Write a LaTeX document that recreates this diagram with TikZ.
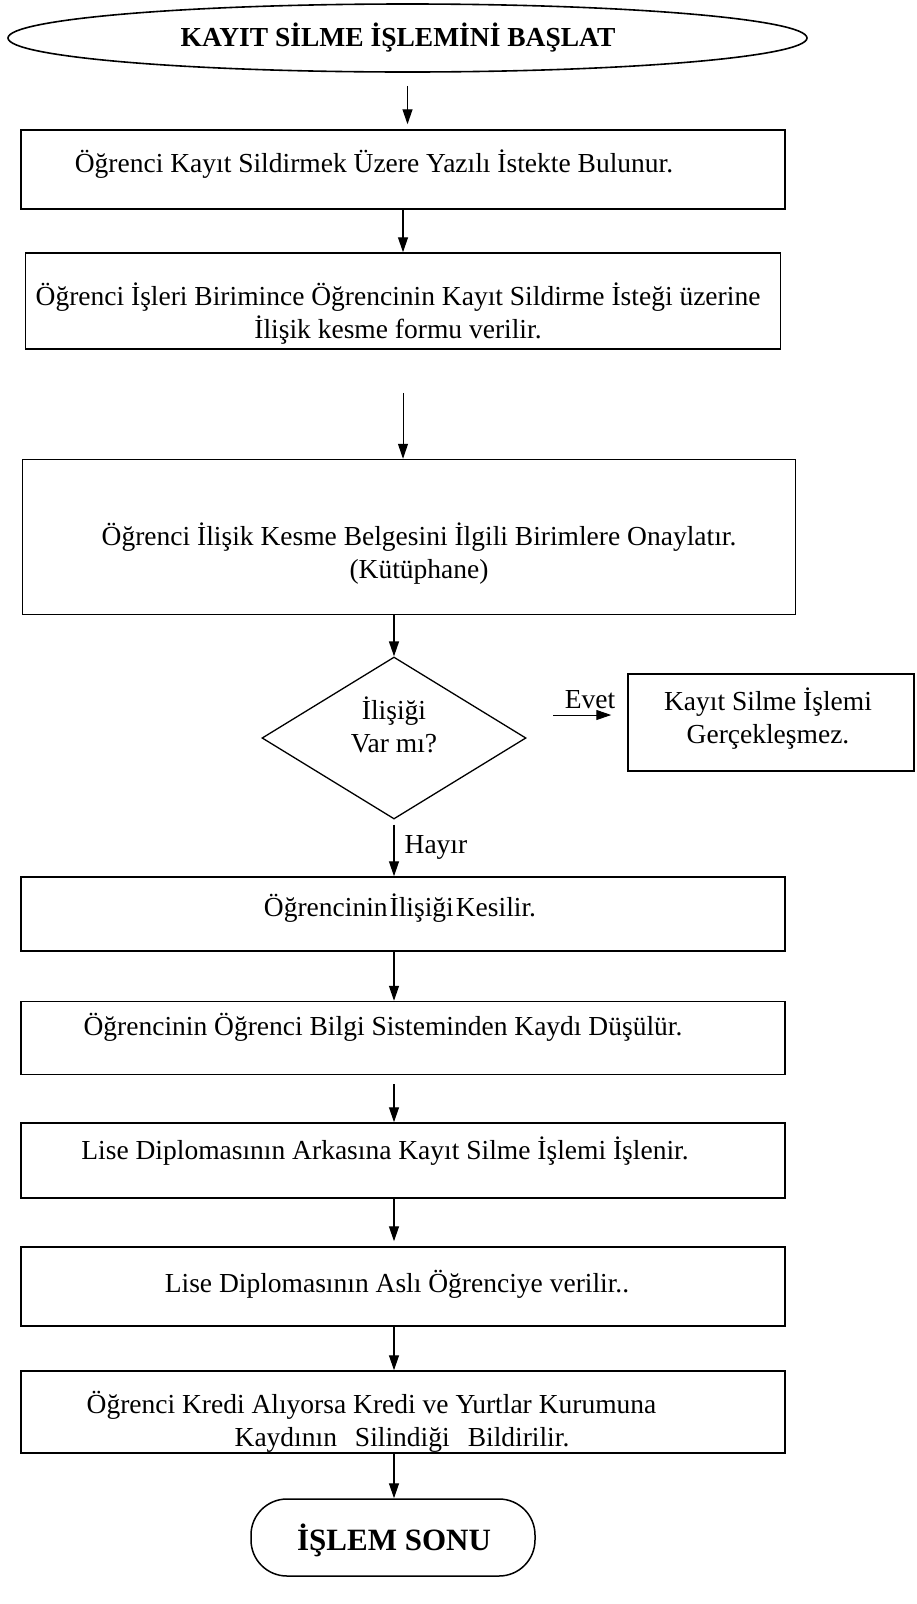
\documentclass[tikz,border=0pt]{standalone}
\usepackage{fontspec}
\setmainfont{Liberation Serif}
\usetikzlibrary{shapes.geometric,arrows.meta}

\tikzset{
  box/.style={draw,rectangle,line width=1.5pt,inner sep=0pt},
  txt/.style={font=\fontsize{27.5}{33}\selectfont,align=center,inner sep=0pt},
}

\begin{document}
\begin{tikzpicture}[x=1pt,y=-1pt,line width=1.3pt,>={Triangle[length=15pt,width=10pt]}]
\useasboundingbox (0,0) rectangle (916,1604);

% terminals and boxes
\node[draw,ellipse,line width=1.6pt,inner sep=0pt,minimum width=799pt,minimum height=68pt] (start) at (407.5,38) {};
\node[box,minimum width=764pt,minimum height=79pt] (b1) at (403,169.5) {};
\node[box,minimum width=755pt,minimum height=96pt] (b2) at (403,301) {};
\node[box,minimum width=773pt,minimum height=155pt] (b3) at (409,537) {};
\node[draw,diamond,line width=1.3pt,inner sep=0pt,minimum width=264pt,minimum height=162pt] (dia) at (394,738) {};
\node[box,minimum width=286pt,minimum height=97pt] (red) at (771,722.5) {};
\node[box,minimum width=764pt,minimum height=74pt] (b4) at (403,914) {};
\node[box,minimum width=764pt,minimum height=73pt] (b5) at (403,1038) {};
\node[box,minimum width=764pt,minimum height=75pt] (b6) at (403,1160.5) {};
\node[box,minimum width=764pt,minimum height=79pt] (b7) at (403,1286.5) {};
\node[box,minimum width=764pt,minimum height=82pt] (b8) at (403,1412) {};
\node[box,rounded corners=36pt,minimum width=284pt,minimum height=77pt] (end) at (393,1537.5) {};

% texts
\node[txt,font=\fontsize{27.5}{33}\selectfont\bfseries] (tstart) at (398,38) {KAYIT SİLME İŞLEMİNİ BAŞLAT};
\node[txt] (t1) at (374,164) {Öğrenci Kayıt Sildirmek Üzere Yazılı İstekte Bulunur.};
\node[txt] (t2) at (398,313.5) {Öğrenci İşleri Birimince Öğrencinin Kayıt Sildirme İsteği üzerine\\İlişik kesme formu verilir.};
\node[txt] (t3) at (419,553.5) {Öğrenci İlişik Kesme Belgesini İlgili Birimlere Onaylatır.\\(Kütüphane)};
\node[txt] (tdia) at (394,725) {İlişiği\\Var mı?};
\node[txt] (tred) at (768,719) {Kayıt Silme İşlemi\\Gerçekleşmez.};
\node[txt] (t4) at (400,908) {\spaceskip=2pt Öğrencinin İlişiği Kesilir.};
\node[txt] (t5) at (383,1027) {Öğrencinin Öğrenci Bilgi Sisteminden Kaydı Düşülür.};
\node[txt] (t6) at (385,1151) {Lise Diplomasının Arkasına Kayıt Silme İşlemi İşlenir.};
\node[txt] (t7) at (397,1284) {Lise Diplomasının Aslı Öğrenciye verilir..};
\node[txt,align=left,anchor=west] (t8) at (86,1421.5) {Öğrenci Kredi Alıyorsa Kredi ve Yurtlar Kurumuna\\\hspace*{148pt}Kaydının\hspace{18pt}Silindiği\hspace{18pt}Bildirilir.};
\node[txt,font=\fontsize{31}{33}\selectfont\bfseries] (tend) at (394,1540) {İŞLEM SONU};

% arrows
\draw[->,shorten <=13pt,shorten >=5pt] (start.south) -- (start.south |- b1.north);
\draw[->] (b1.south) -- (b1.south |- b2.north);
\draw[->,line width=1pt,shorten <=43pt] (b2.south) -- (b2.south |- b3.north);
\draw[->] (dia.north |- b3.south) -- (dia.north);
\coordinate (ev) at (553,715);
\draw[->,line width=1pt,shorten >=16pt] (ev) -- (ev -| red.west);
\node[txt,anchor=base] (tevet) at (590,708) {Evet};
\draw[->,shorten <=5pt] (dia.south) -- (dia.south |- b4.north) node[txt,midway,right=10pt] (thayir) {Hayır};
\draw[->] (dia.south |- b4.south) -- (dia.south |- b5.north);
\draw[->,shorten <=9pt] (dia.south |- b5.south) -- (dia.south |- b6.north);
\draw[->,shorten >=5pt] (dia.south |- b6.south) -- (dia.south |- b7.north);
\draw[->] (dia.south |- b7.south) -- (dia.south |- b8.north);
\draw[->] (dia.south |- b8.south) -- (dia.south |- end.north);
\end{tikzpicture}
\end{document}
